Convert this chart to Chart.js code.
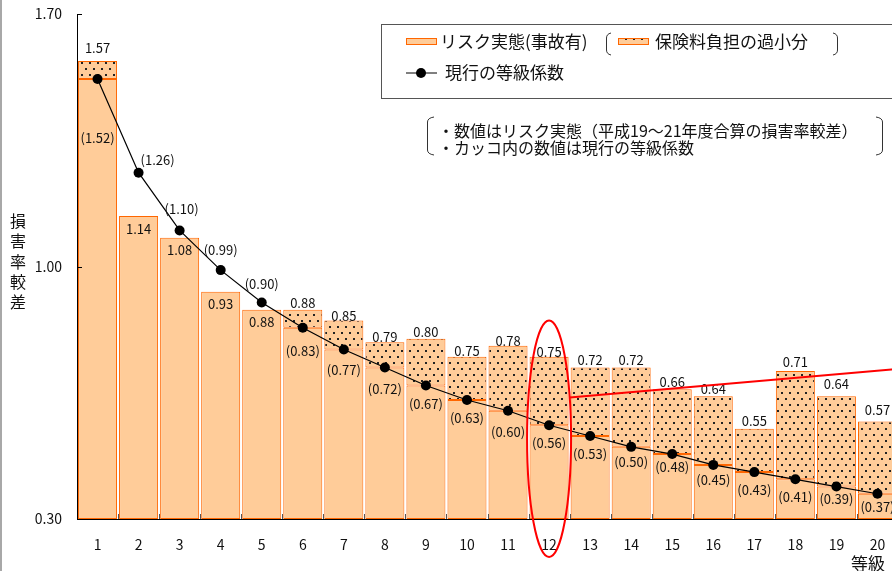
<!DOCTYPE html>
<html lang="ja">
<head>
<meta charset="utf-8">
<title>損害率較差と等級係数</title>
<script src="https://cdn.jsdelivr.net/npm/chart.js@4.4.1/dist/chart.umd.min.js"></script>
<style>
  html, body { margin: 0; padding: 0; background: #fff; overflow: hidden; }
  #wrap { width: 892px; height: 571px; overflow: hidden; position: relative; }
  canvas { display: block; }
</style>
</head>
<body>
<div id="wrap"><canvas id="chart" width="903" height="571"></canvas></div>
<script>
// 等級 (class) 1–20
const categories = ['1','2','3','4','5','6','7','8','9','10','11','12','13','14','15','16','17','18','19','20'];
// リスク実態（事故有）: loss-ratio differential per class
const riskActual = [1.57, 1.14, 1.08, 0.93, 0.88, 0.88, 0.85, 0.79, 0.80, 0.75, 0.78, 0.75, 0.72, 0.72, 0.66, 0.64, 0.55, 0.71, 0.64, 0.57];
// 現行の等級係数: current class coefficient
const gradeCoef = [1.52, 1.26, 1.10, 0.99, 0.90, 0.83, 0.77, 0.72, 0.67, 0.63, 0.60, 0.56, 0.53, 0.50, 0.48, 0.45, 0.43, 0.41, 0.39, 0.37];
// value axis
const yMin = 0.30;
const yMax = 1.70;
const yTickValues = [0.30, 1.00, 1.70];

// label placement (pixel offsets from the mark)
const riskLabelDy = [-13, 13, 12, 12, 12, -7, -5, -5, -7, -6, -5, -5, -7, -7, -7, -7, -8, -9, -12, -12];
const coefLabelDx = [0, 19, 2, 0, 0, 0, 0, 0, 0, 0, 0, 0, 0, 0, 0, 0, 0, 0, 0, 0];
const coefLabelDy = [59, -13, -21, -20, -19, 23, 21, 22, 19, 18, 21, 18, 18, 15, 13, 15, 18, 18, 13, 13];

const FONT = '"Noto Sans CJK JP", "Noto Sans", sans-serif';
const PEACH = '#FFCC99';
const ORANGE = '#FF6600';

// dotted fill for the under-charged part
function makeDotPattern(ctx) {
  const t = document.createElement('canvas');
  t.width = 8; t.height = 12;
  const c = t.getContext('2d');
  c.fillStyle = PEACH;
  c.fillRect(0, 0, 8, 12);
  c.fillStyle = '#222';
  c.fillRect(1, 2, 2, 2);
  c.fillRect(5, 8, 2, 2);
  return ctx.createPattern(t, 'repeat');
}

const canvas = document.getElementById('chart');
const ctx0 = canvas.getContext('2d');
const dots = makeDotPattern(ctx0);

const baseBars = riskActual.map((r, i) => [yMin, Math.min(r, gradeCoef[i])]);
const shortfallBars = riskActual.map((r, i) => r > gradeCoef[i] ? [gradeCoef[i], r] : null);

const extras = {
  id: 'extras',
  afterDatasetsDraw(chart) {
    const { ctx, scales: { x, y } } = chart;
    ctx.save();
    ctx.fillStyle = '#111';
    ctx.font = '13px ' + FONT;
    ctx.textAlign = 'center';
    ctx.textBaseline = 'middle';
    categories.forEach((c, i) => {
      const px = x.getPixelForValue(i);
      ctx.fillText(riskActual[i].toFixed(2), px, y.getPixelForValue(riskActual[i]) + riskLabelDy[i]);
      ctx.fillText('(' + gradeCoef[i].toFixed(2) + ')', px + coefLabelDx[i], y.getPixelForValue(gradeCoef[i]) + coefLabelDy[i]);
    });
    ctx.restore();
  },
  afterDraw(chart) {
    const { ctx, chartArea: a, scales: { x, y } } = chart;
    ctx.save();

    // inward tick marks
    ctx.strokeStyle = '#000';
    ctx.lineWidth = 1;
    yTickValues.forEach(v => {
      const py = Math.round(y.getPixelForValue(v)) + 0.5;
      ctx.beginPath(); ctx.moveTo(a.left, py); ctx.lineTo(a.left + 5, py); ctx.stroke();
    });
    ctx.strokeStyle = '#555';
    for (let i = 0; i < categories.length - 1; i++) {
      const px = Math.round((x.getPixelForValue(i) + x.getPixelForValue(i + 1)) / 2) + 0.5;
      ctx.beginPath(); ctx.moveTo(px, a.bottom); ctx.lineTo(px, a.bottom - 5); ctx.stroke();
    }

    // axis titles
    ctx.fillStyle = '#111';
    ctx.textAlign = 'center';
    ctx.textBaseline = 'middle';
    ctx.font = '16px ' + FONT;
    const vTitle = '損害率較差';
    for (let k = 0; k < vTitle.length; k++) {
      ctx.fillText(vTitle[k], 18, 221 + k * 20.3);
    }
    ctx.font = '17px ' + FONT;
    ctx.fillText('等級', 868, 564);

    // legend box
    ctx.strokeStyle = '#555';
    ctx.lineWidth = 1;
    ctx.strokeRect(381.5, 24.5, 540, 74);
    ctx.fillStyle = PEACH;
    ctx.fillRect(406, 38, 31, 7);
    ctx.strokeStyle = ORANGE;
    ctx.strokeRect(406.5, 38.5, 30, 6);
    ctx.fillStyle = dots;
    ctx.fillRect(618, 38, 31, 7);
    ctx.strokeRect(618.5, 38.5, 30, 6);
    ctx.strokeStyle = '#000';
    ctx.beginPath(); ctx.moveTo(406, 73); ctx.lineTo(437, 73); ctx.stroke();
    ctx.fillStyle = '#000';
    ctx.beginPath(); ctx.arc(421, 73, 5, 0, Math.PI * 2); ctx.fill();

    ctx.fillStyle = '#111';
    ctx.textAlign = 'left';
    ctx.font = '17px ' + FONT;
    ctx.fillText('リスク実態(事故有)', 440, 42);
    ctx.fillText('保険料負担の過小分', 655, 42);
    ctx.fillText('現行の等級係数', 445, 73);

    // brackets
    ctx.strokeStyle = '#333';
    ctx.lineWidth = 1;
    const bracket = (xs, xe, y0, y1) => {
      ctx.beginPath();
      ctx.moveTo(xe, y0);
      ctx.quadraticCurveTo(xs, y0 + 1, xs, y0 + 5);
      ctx.lineTo(xs, y1 - 5);
      ctx.quadraticCurveTo(xs, y1 - 1, xe, y1);
      ctx.stroke();
    };
    bracket(606.5, 611, 33, 55);
    bracket(837.5, 833, 33, 55);
    bracket(427.5, 434, 117, 155);
    bracket(882.5, 876, 117, 155);

    // notes
    ctx.font = '16px ' + FONT;
    ctx.fillText('・数値はリスク実態（平成19～21年度合算の損害率較差）', 438, 131);
    ctx.fillText('・カッコ内の数値は現行の等級係数', 438, 148);

    // highlight on class 12
    const cx = x.getPixelForValue(11);
    const yTop = y.getPixelForValue(0.85);
    const yBot = y.getPixelForValue(0.195);
    const cy = (yTop + yBot) / 2;
    const ry = (yBot - yTop) / 2;
    const rx = 22;
    ctx.strokeStyle = '#FF0000';
    ctx.lineWidth = 2;
    ctx.beginPath(); ctx.ellipse(cx, cy, rx, ry, 0, 0, Math.PI * 2); ctx.stroke();
    const sy = y.getPixelForValue(0.637);
    const sx = cx + rx * Math.sqrt(Math.max(0, 1 - Math.pow((sy - cy) / ry, 2)));
    ctx.beginPath(); ctx.moveTo(sx, sy); ctx.lineTo(chart.width, y.getPixelForValue(0.717)); ctx.stroke();

    // page edge
    ctx.fillStyle = '#a8a8a8';
    ctx.fillRect(0, 0, 2, chart.height);
    ctx.restore();
  }
};

new Chart(canvas, {
  data: {
    labels: categories,
    datasets: [
      {
        type: 'line',
        label: '現行の等級係数',
        data: gradeCoef,
        order: 0,
        borderColor: '#000',
        borderWidth: 1.2,
        pointRadius: 5,
        pointBackgroundColor: '#000',
        pointBorderWidth: 0,
        tension: 0,
        fill: false
      },
      {
        type: 'bar',
        label: 'リスク実態(事故有)',
        data: baseBars,
        order: 2,
        backgroundColor: PEACH,
        borderColor: ORANGE,
        borderWidth: 1,
        borderSkipped: false,
        categoryPercentage: 0.95,
        barPercentage: 1.0
      },
      {
        type: 'bar',
        label: '保険料負担の過小分',
        data: shortfallBars,
        order: 1,
        backgroundColor: dots,
        borderColor: ORANGE,
        borderWidth: 1,
        borderSkipped: false,
        categoryPercentage: 0.95,
        barPercentage: 1.0
      }
    ]
  },
  options: {
    responsive: false,
    animation: false,
    devicePixelRatio: 1,
    layout: { padding: { top: 0, left: 0, right: 0, bottom: 0 } },
    plugins: { legend: { display: false }, tooltip: { enabled: false } },
    scales: {
      x: {
        type: 'category',
        stacked: true,
        offset: true,
        grid: { display: false, drawTicks: false },
        border: { display: true, color: '#000', width: 1 },
        ticks: { color: '#111', font: { family: FONT, size: 14 }, padding: 17, maxRotation: 0, autoSkip: false },
        afterFit(s) { s.height = 52; s.paddingLeft = 0; s.paddingRight = 0; }
      },
      y: {
        min: yMin,
        max: yMax,
        stacked: false,
        grid: { display: false, drawTicks: false },
        border: { display: true, color: '#000', width: 1 },
        afterBuildTicks(s) { s.ticks = yTickValues.map(v => ({ value: v })); },
        ticks: { color: '#111', font: { family: FONT, size: 14 }, padding: 15, callback: v => Number(v).toFixed(2) },
        afterFit(s) { s.width = 77; s.paddingTop = 14; s.paddingBottom = 0; }
      }
    }
  },
  plugins: [extras]
});
</script>
</body>
</html>
